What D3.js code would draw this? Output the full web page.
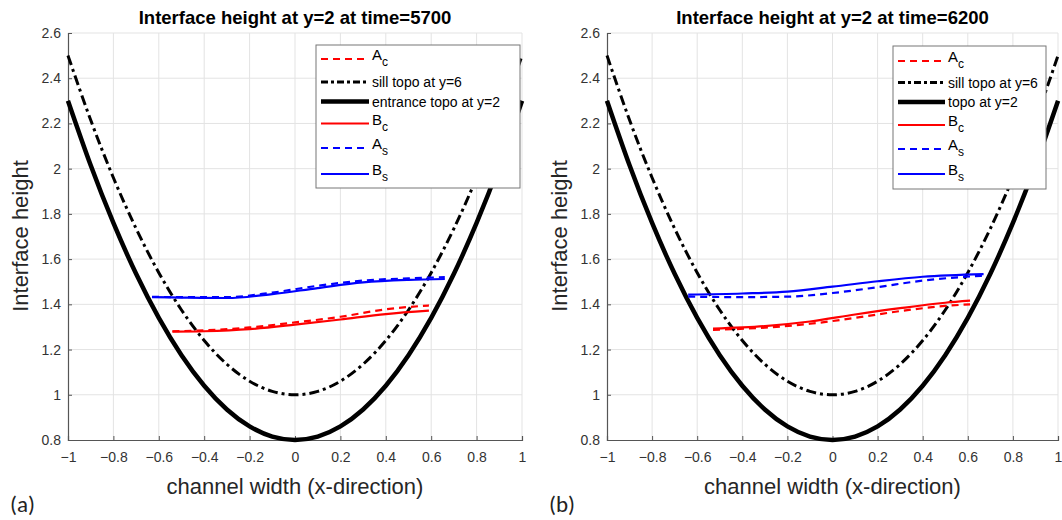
<!DOCTYPE html>
<html><head><meta charset="utf-8">
<script src="https://cdn.jsdelivr.net/npm/d3@7"></script>
<style>
body{margin:0;background:#fff;}
text{font-family:"Liberation Sans",Arial,sans-serif;}
</style></head>
<body><svg id="c" width="1062" height="520"></svg>
<script>
// ---- data ----
const xTicks = [-1,-0.8,-0.6,-0.4,-0.2,0,0.2,0.4,0.6,0.8,1];
const yTicks = [0.8,1,1.2,1.4,1.6,1.8,2,2.2,2.4,2.6];
const topoX = [-1,-0.9,-0.8,-0.7,-0.6,-0.5,-0.4,-0.3,-0.2,-0.1,0,0.1,0.2,0.3,0.4,0.5,0.6,0.7,0.8,0.9,1];
const entranceTopo = [2.3,2.015,1.76,1.535,1.34,1.175,1.04,0.935,0.86,0.815,0.8,0.815,0.86,0.935,1.04,1.175,1.34,1.535,1.76,2.015,2.3];
const sillTopo = [2.5,2.215,1.96,1.735,1.54,1.375,1.24,1.135,1.06,1.015,1.0,1.015,1.06,1.135,1.24,1.375,1.54,1.735,1.96,2.215,2.5];

// panel (a) time=5700
const aSX = [-0.63,-0.5,-0.3,-0.1,0.1,0.3,0.5,0.66];
const aBs = [1.432,1.430,1.428,1.445,1.472,1.497,1.508,1.512];
const aAs = [1.433,1.432,1.432,1.452,1.482,1.505,1.515,1.52];
const aCX = [-0.54,-0.4,-0.2,0,0.2,0.4,0.59];
const aBc = [1.279,1.281,1.29,1.31,1.333,1.357,1.372];
const aAc = [1.281,1.285,1.298,1.32,1.345,1.378,1.395];

// panel (b) time=6200
const bSX = [-0.64,-0.4,-0.2,0,0.2,0.4,0.67];
const bBs = [1.443,1.448,1.456,1.478,1.502,1.522,1.534];
const bAs = [1.434,1.432,1.434,1.45,1.476,1.505,1.527];
const bCX = [-0.53,-0.3,-0.1,0.1,0.3,0.5,0.61];
const bBc = [1.293,1.304,1.324,1.355,1.383,1.407,1.416];
const bAc = [1.287,1.297,1.314,1.34,1.37,1.393,1.40];

const titles = ["Interface height at y=2 at time=5700","Interface height at y=2 at time=6200"];
const topoLabels = ["entrance topo at y=2","topo at y=2"];
const panelLabels = ["(a)","(b)"];

const svg = d3.select("#c");

function zip(xs, ys){ return xs.map((x,i)=>[x,ys[i]]); }

function panel(cfg){
  const x = d3.scaleLinear().domain([-1,1]).range([cfg.x0,cfg.x1]);
  const y = d3.scaleLinear().domain([0.8,2.6]).range([440,33]);
  const g = svg.append("g");
  // grid
  g.append("g").selectAll("line").data(xTicks.slice(1)).join("line")
    .attr("x1",d=>x(d)).attr("x2",d=>x(d)).attr("y1",33).attr("y2",440)
    .attr("stroke","#e3e3e3").attr("stroke-width",1);
  g.append("g").selectAll("line").data(yTicks.slice(1)).join("line")
    .attr("y1",d=>y(d)).attr("y2",d=>y(d)).attr("x1",cfg.x0).attr("x2",cfg.x1)
    .attr("stroke","#e3e3e3").attr("stroke-width",1);
  // axes
  const xa = g.append("g").attr("transform","translate(0,440)")
    .call(d3.axisBottom(x).tickValues(xTicks).tickSize(-4).tickPadding(12).tickFormat(d=>d3.format("")(d)));
  const ya = g.append("g").attr("transform",`translate(${cfg.x0},0)`)
    .call(d3.axisLeft(y).tickValues(yTicks).tickSize(-4).tickPadding(7).tickFormat(d=>d3.format("")(d)));
  [xa,ya].forEach(a=>{
    a.select(".domain").attr("stroke","#555").attr("stroke-width",1.2);
    a.selectAll(".tick line").attr("stroke","#555");
    a.selectAll(".tick text").attr("fill","#333").style("font-size","14px").style("font-family","'Liberation Sans',Arial");
  });
  const line = d3.line().x(d=>x(d[0])).y(d=>y(d[1])).curve(d3.curveMonotoneX);
  const topoLine = d3.line().x(d=>x(d[0])).y(d=>y(d[1])).curve(d3.curveNatural);
  // topo curves
  g.append("path").attr("d",topoLine(zip(topoX,sillTopo))).attr("fill","none")
    .attr("stroke","#000").attr("stroke-width",3).attr("stroke-dasharray","10,4,3,4");
  g.append("path").attr("d",topoLine(zip(topoX,entranceTopo))).attr("fill","none")
    .attr("stroke","#000").attr("stroke-width",4.5);
  // interface curves
  const series = [
    {xs:cfg.cx, ys:cfg.Ac, c:"#ff0000", dash:"7,5"},
    {xs:cfg.cx, ys:cfg.Bc, c:"#ff0000", dash:null},
    {xs:cfg.sx, ys:cfg.As, c:"#0000ff", dash:"7,5"},
    {xs:cfg.sx, ys:cfg.Bs, c:"#0000ff", dash:null}
  ];
  series.forEach(s=>{
    g.append("path").attr("d",line(zip(s.xs,s.ys))).attr("fill","none")
      .attr("stroke",s.c).attr("stroke-width",2.2).attr("stroke-dasharray",s.dash);
  });
  // title
  g.append("text").attr("x",(cfg.x0+cfg.x1)/2).attr("y",24).attr("text-anchor","middle")
    .style("font-size","18.5px").style("font-weight","bold").attr("fill","#000").text(cfg.title);
  // axis labels
  g.append("text").attr("x",(cfg.x0+cfg.x1)/2).attr("y",494).attr("text-anchor","middle")
    .style("font-size","22px").attr("fill","#262626").text("channel width (x-direction)");
  g.append("text").attr("transform",`translate(${cfg.x0-40},${236}) rotate(-90)`).attr("text-anchor","middle")
    .style("font-size","22px").attr("fill","#262626").text("Interface height");
  g.append("text").attr("x",cfg.x0-58).attr("y",512).style("font-size","23px")
    .attr("fill","#222").style("font-family","Carlito, Calibri, 'Liberation Sans', sans-serif").text(cfg.plabel);
  // legend
  const L = cfg.leg;
  g.append("rect").attr("x",L.x).attr("y",L.y).attr("width",L.w).attr("height",L.h)
    .attr("fill","#fff").attr("stroke","#777").attr("stroke-width",1);
  const entries = [
    {t:"A",sub:"c",c:"#ff0000",w:2,dash:"7,5",dy:L.ys[0]},
    {t:"sill topo at y=6",c:"#000",w:3,dash:"7,3,3,3",dy:L.ys[1]},
    {t:cfg.topoLabel,c:"#000",w:4.5,dash:null,dy:L.ys[2]},
    {t:"B",sub:"c",c:"#ff0000",w:2,dash:null,dy:L.ys[3]},
    {t:"A",sub:"s",c:"#0000ff",w:2,dash:"7,5",dy:L.ys[4]},
    {t:"B",sub:"s",c:"#0000ff",w:2,dash:null,dy:L.ys[5]}
  ];
  entries.forEach(e=>{
    g.append("line").attr("x1",L.lx0).attr("x2",L.lx1).attr("y1",e.dy).attr("y2",e.dy)
      .attr("stroke",e.c).attr("stroke-width",e.w).attr("stroke-dasharray",e.dash);
    if(e.sub){
      const t = g.append("text").attr("x",L.tx).attr("y",e.dy+1).style("font-size","15px").attr("fill","#000");
      t.append("tspan").text(e.t);
      t.append("tspan").attr("dy",6).style("font-size","12px").text(e.sub);
    } else {
      g.append("text").attr("x",L.tx).attr("y",e.dy+5).style("font-size","14px").attr("fill","#000").text(e.t);
    }
  });
}

panel({x0:68,x1:522,title:titles[0],topoLabel:topoLabels[0],plabel:panelLabels[0],
  sx:aSX,Bs:aBs,As:aAs,cx:aCX,Bc:aBc,Ac:aAc,
  leg:{x:316,y:45,w:204,h:143,lx0:321,lx1:369,tx:372,ys:[59,82,101.5,123.5,148,174]}});
panel({x0:607,x1:1058,title:titles[1],topoLabel:topoLabels[1],plabel:panelLabels[1],
  sx:bSX,Bs:bBs,As:bAs,cx:bCX,Bc:bBc,Ac:bAc,
  leg:{x:893,y:46,w:153,h:143,lx0:898,lx1:945,tx:948,ys:[61,82.5,102,125,149,174]}});
</script>
</body></html>
